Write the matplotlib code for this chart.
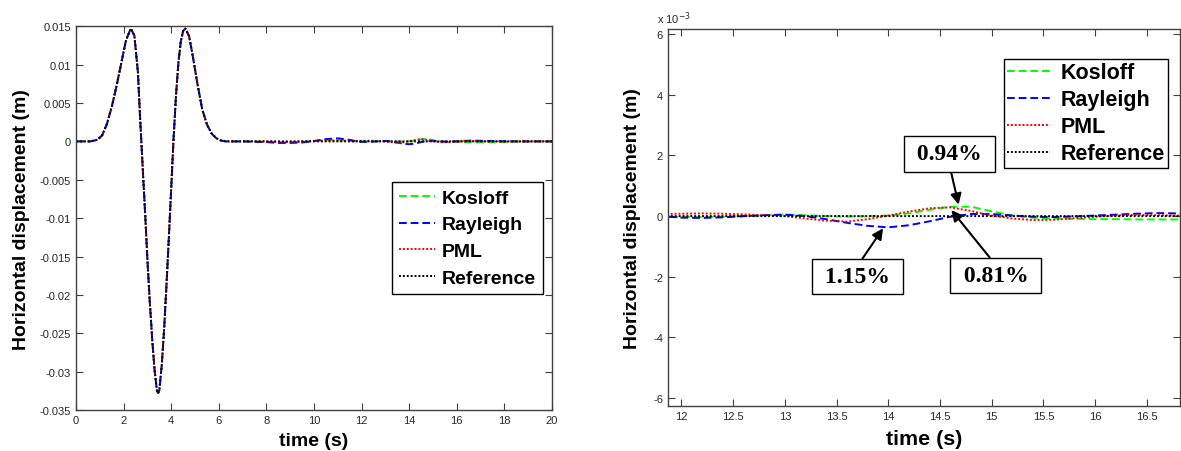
import numpy as np
import matplotlib.pyplot as plt
from matplotlib.ticker import FuncFormatter

plt.rcParams['font.family'] = ['Liberation Sans', 'DejaVu Sans']

# main pulse (same for every boundary model), time in s, displacement in m
t_pulse = [0.0, 0.6, 0.9, 1.1, 1.3, 1.5, 1.7, 1.9, 2.1, 2.3, 2.45, 2.6, 2.7, 2.8,
           2.9, 3.0, 3.1, 3.2, 3.3, 3.4, 3.45, 3.5, 3.6, 3.7, 3.8, 3.9, 4.0, 4.1,
           4.2, 4.3, 4.4, 4.5, 4.6, 4.75, 4.9, 5.1, 5.3, 5.5, 5.7, 5.9, 6.1, 6.3]
u_pulse = [0.0, 0.0, 0.0002, 0.0008, 0.0023, 0.0045, 0.0072, 0.0102, 0.0132,
           0.0147, 0.0138, 0.0090, 0.0025, -0.0034, -0.0092, -0.0155, -0.0210,
           -0.0258, -0.0298, -0.0325, -0.0328, -0.0324, -0.0292, -0.0245,
           -0.0187, -0.0125, -0.0060, 0.0005, 0.0060, 0.0102, 0.0130, 0.0144,
           0.0147, 0.0137, 0.0112, 0.0075, 0.0042, 0.0022, 0.0010, 0.0004,
           0.0001, 0.0]

# tail after the pulse (reflections), values in 1e-3 m
t_tail = [6.4, 7.0, 7.5, 8.0, 8.5, 9.0, 9.5, 10.0, 10.5, 11.0, 11.5, 11.8,
          12.0, 12.2, 12.4, 12.6, 12.8, 13.0, 13.2, 13.4, 13.6, 13.8, 14.0,
          14.2, 14.4, 14.6, 14.8, 15.0, 15.2, 15.4, 15.6, 15.8, 16.0, 16.2,
          16.4, 16.6, 16.8, 17.5, 18.0, 19.0, 20.0]
kosloff_tail = [0, 0, 0, -0.05, -0.1, -0.1, -0.05, 0.05, 0.15, 0.15, 0.05, -0.02,
                -0.03, -0.03, -0.02, 0.0, 0.03, 0.05, 0.03, 0.0, -0.01, 0.0, 0.02,
                0.09, 0.21, 0.31, 0.31, 0.16, 0.02, -0.05, -0.08, -0.09, -0.1,
                -0.1, -0.11, -0.11, -0.11, -0.1, -0.08, -0.03, 0]
rayleigh_tail = [0, 0, -0.05, -0.1, -0.2, -0.2, -0.15, 0.05, 0.3, 0.4, 0.2, 0.0,
                 -0.05, -0.06, -0.04, 0.0, 0.03, 0.05, 0.0, -0.1, -0.22, -0.32,
                 -0.37, -0.3, -0.17, -0.02, 0.07, 0.07, 0.02, -0.02, -0.03, -0.01,
                 0.02, 0.05, 0.08, 0.1, 0.09, 0.05, 0.02, 0, 0]
pml_tail = [0, 0, 0, -0.03, -0.08, -0.08, -0.03, 0.05, 0.12, 0.12, 0.08, 0.07,
            0.08, 0.09, 0.08, 0.06, 0.03, 0.0, -0.08, -0.15, -0.18, -0.1, 0.02,
            0.15, 0.26, 0.29, 0.17, 0.02, -0.08, -0.13, -0.12, -0.07, -0.02,
            0.02, 0.04, 0.03, 0.02, 0.0, -0.02, 0, 0]
reference_tail = [0] * len(t_tail)

labels = ['Kosloff', 'Rayleigh', 'PML', 'Reference']
colors = ['#00ff00', '#0000ff', '#ff0000', 'k']
dashes = [(4, 2), (4, 2), (1, 1), (1, 1)]
tails = [kosloff_tail, rayleigh_tail, pml_tail, reference_tail]

t = np.array(t_pulse + t_tail)
series = [np.array(u_pulse + [v * 1e-3 for v in tl]) for tl in tails]

fig = plt.figure(figsize=(11.81, 4.52), dpi=100)
ax1 = fig.add_axes([0.0644, 0.0907, 0.403, 0.849])
ax2 = fig.add_axes([0.5656, 0.0996, 0.4335, 0.834])

fmt = FuncFormatter(lambda v, p: '%g' % round(v, 6))

for ax in (ax1, ax2):
    for s in ax.spines.values():
        s.set_color('#404040')
        s.set_linewidth(1.0)
    ax.tick_params(direction='in', top=True, right=True, length=5,
                   labelsize=8, colors='#404040', labelcolor='#262626')

# left: full record
for u, lab, c, d in zip(series, labels, colors, dashes):
    ax1.plot(t, u, color=c, lw=1.4, dashes=d, label=lab)
ax1.set_xlim(0, 20)
ax1.set_ylim(-0.035, 0.015)
ax1.set_xticks(np.arange(0, 21, 2))
ax1.set_yticks(np.arange(-0.035, 0.0151, 0.005))
ax1.yaxis.set_major_formatter(fmt)
ax1.set_xlabel('time (s)', fontsize=14, fontweight='bold', labelpad=5)
ax1.set_ylabel('Horizontal displacement (m)', fontsize=14, fontweight='bold')
ax1.yaxis.set_label_coords(-0.097, 0.5)
leg = ax1.legend(loc='upper right', bbox_to_anchor=(0.981, 0.594), borderaxespad=0,
                 fancybox=False, edgecolor='k', framealpha=1, handlelength=1.85,
                 handletextpad=0.36, borderpad=0.36, labelspacing=0.47,
                 prop={'weight': 'bold', 'size': 14})
leg.get_frame().set_linewidth(1.0)

# right: zoom on the reflections, in 1e-3 m
for u, lab, c, d in zip(series, labels, colors, dashes):
    ax2.plot(t, u * 1e3, color=c, lw=1.4, dashes=d, label=lab)
ax2.set_xlim(11.87, 16.82)
ax2.set_ylim(-6.26, 6.17)
ax2.set_xticks(np.arange(12, 16.6, 0.5))
ax2.set_yticks(np.arange(-6, 6.1, 2))
ax2.xaxis.set_major_formatter(fmt)
ax2.yaxis.set_major_formatter(fmt)
ax2.set_xlabel('time (s)', fontsize=15.4, fontweight='bold', labelpad=6)
ax2.set_ylabel('Horizontal displacement (m)', fontsize=14, fontweight='bold')
ax2.yaxis.set_label_coords(-0.053, 0.5)
ax2.text(-0.022, 1.008, r'x 10$^{-3}$', transform=ax2.transAxes, fontsize=8,
         color='#262626', ha='left', va='bottom')
leg2 = ax2.legend(loc='upper right', bbox_to_anchor=(0.977, 0.920), borderaxespad=0,
                  fancybox=False, edgecolor='k', framealpha=1, handlelength=2.0,
                  handletextpad=0.5, borderpad=0.15, labelspacing=0.28,
                  prop={'weight': 'bold', 'size': 15.5})
leg2.get_frame().set_linewidth(1.0)

box = dict(boxstyle='square,pad=0.3', fc='white', ec='k', lw=1.0)
notes = [(' 0.94% ', (14.68, 0.38), (14.59, 2.05), (0.5, 0)),
         (' 1.15% ', (13.95, -0.40), (13.70, -2.0), (0.5, 1)),
         (' 0.81% ', (14.61, 0.20), (15.04, -1.96), (0.5, 1))]
for txt, xy, xyt, rp in notes:
    ax2.annotate(txt, xy=xy, xytext=xyt, ha='center', va='center',
                 fontsize=17, fontweight='bold', family='Liberation Serif',
                 bbox=box,
                 arrowprops=dict(arrowstyle='-|>', color='k', lw=1.5,
                                 mutation_scale=16, relpos=rp, shrinkA=0, shrinkB=0))

fig.savefig('out.png', dpi=100)
